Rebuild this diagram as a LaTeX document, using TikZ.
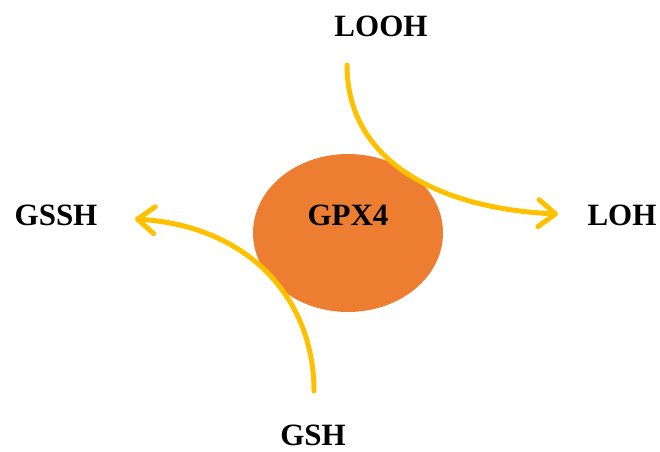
\documentclass[tikz,border=0pt]{standalone}
\usepackage{fontspec}
\setmainfont{Liberation Serif}
\usetikzlibrary{arrows.meta,shapes.geometric}
\definecolor{gold}{HTML}{FFC000}
\definecolor{orng}{HTML}{ED7D31}
\tikzset{
  lbl/.style={font=\fontsize{31}{37}\selectfont\bfseries, inner sep=0pt},
  flow/.style={draw=gold, line width=5, line cap=round,
    -{Straight Barb[length=17, width=27, line width=5, round]}},
}
\begin{document}
\begin{tikzpicture}[x=1pt,y=-1pt]
\useasboundingbox (0,0) rectangle (660,451);
\node[ellipse, fill=orng, minimum width=190, minimum height=158, inner sep=0pt] (gpx) at (348,233) {};
\node[lbl] (gpxl) at (348,215) {GPX4};
\node[lbl] (looh) at (381,26) {LOOH};
\node[lbl] (loh) at (622,215) {LOH};
\node[lbl] (gssh) at (56,215) {GSSH};
\node[lbl] (gsh) at (313,435) {GSH};
\coordinate (a1) at (347,65);
\coordinate (a2) at (558,214);
\coordinate (b1) at (314,391);
\coordinate (b2) at (135,219);
\draw[flow] (a1) .. controls (347,165) and (445,209) .. (a2);
\draw[flow] (b1) .. controls (314,300) and (250,226) .. (b2);
\end{tikzpicture}
\end{document}
